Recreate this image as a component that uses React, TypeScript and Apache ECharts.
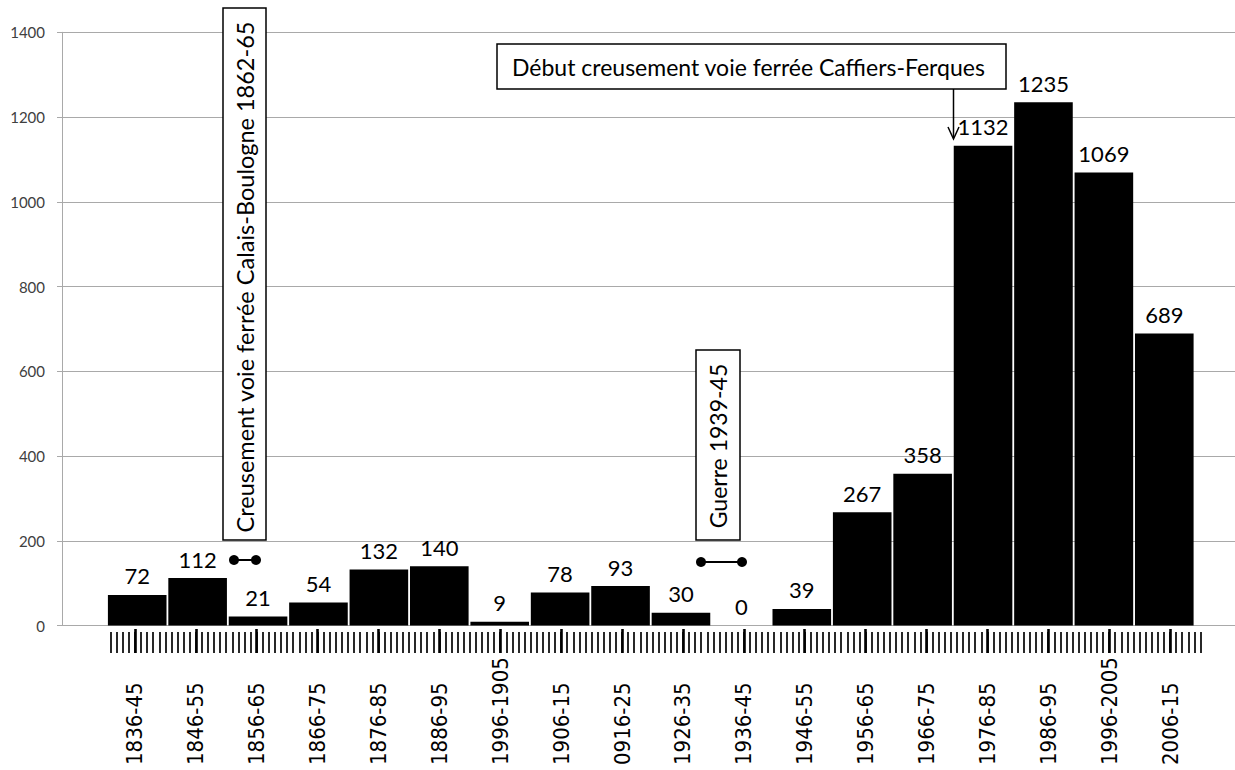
import React, { useEffect, useRef } from "react";
import * as echarts from "echarts";

// Ten-year periods on the horizontal axis (labels kept as written on the chart)
const periods = [
  "1836-45", "1846-55", "1856-65", "1866-75", "1876-85", "1886-95",
  "1996-1905", "1906-15", "0916-25", "1926-35", "1936-45", "1946-55",
  "1956-65", "1966-75", "1976-85", "1986-95", "1996-2005", "2006-15",
];

// Value for each period
const counts = [72, 112, 21, 54, 132, 140, 9, 78, 93, 30, 0, 39, 267, 358, 1132, 1235, 1069, 689];

// Vertical scale
const yMin = 0;
const yMax = 1400;
const yStep = 200;

// One tick per year, ten per period
const firstYear = 1836;
const years = periods.flatMap((_, p) =>
  Array.from({ length: 10 }, (_, k) => String(firstYear + p * 10 + k))
);
const majorTick = (index: number) => index % 10 === 4;

const GRID_TOP = 32.3;
const GRID_BOTTOM = 144.5;
const GRAY = "#a9a9a9";
const CALIBRI = "Lato, 'Open Sans', sans-serif";

export default function App() {
  const ref = useRef<HTMLDivElement>(null);

  useEffect(() => {
    if (!ref.current) return;
    const chart = echarts.init(ref.current, undefined, { renderer: "svg" });

    const box = (x: number, y: number, w: number, h: number) => ({
      type: "rect",
      shape: { x, y, width: w, height: h },
      style: { fill: "#fff", stroke: "#000", lineWidth: 1.5 },
      z: 100,
    });
    const label = (text: string, x: number, y: number, rotated: boolean, size: number, align = "center") => ({
      type: "text",
      x,
      y,
      rotation: rotated ? Math.PI / 2 : 0,
      style: {
        text,
        font: `${size}px ${CALIBRI}`,
        fill: "#000",
        align,
        verticalAlign: "middle",
        textAlign: align,
        textVerticalAlign: "middle",
      },
      z: 101,
    });
    const dumbbell = (x1: number, x2: number, y: number) => [
      { type: "line", shape: { x1, y1: y, x2, y2: y }, style: { stroke: "#000", lineWidth: 2 }, z: 101 },
      { type: "circle", shape: { cx: x1, cy: y, r: 5 }, style: { fill: "#000" }, z: 101 },
      { type: "circle", shape: { cx: x2, cy: y, r: 5 }, style: { fill: "#000" }, z: 101 },
    ];

    chart.setOption({
      animation: false,
      backgroundColor: "#fff",
      grid: [
        { left: 62, right: 0, top: GRID_TOP, bottom: GRID_BOTTOM },
        { left: 107, right: 40.5, top: GRID_TOP, bottom: GRID_BOTTOM },
        { left: 107.5, right: 31.5, top: GRID_TOP, bottom: GRID_BOTTOM },
        { left: 107.5, right: 31.5, top: GRID_TOP, bottom: GRID_BOTTOM },
      ],
      xAxis: [
        { gridIndex: 0, type: "value", show: false, min: 0, max: 1 },
        { gridIndex: 1, type: "category", data: periods, show: false },
        {
          gridIndex: 2,
          type: "category",
          data: years,
          position: "bottom",
          offset: 6.5,
          axisLine: { show: true, onZero: false, lineStyle: { color: "rgba(0,0,0,0)" } },
          axisTick: {
            show: true,
            alignWithLabel: true,
            interval: 0,
            length: 21,
            lineStyle: { color: "#111", width: 1.8 },
          },
          axisLabel: { show: false },
        },
        {
          gridIndex: 3,
          type: "category",
          data: years,
          position: "bottom",
          offset: 3.5,
          axisLine: { show: true, onZero: false, lineStyle: { color: "rgba(0,0,0,0)" } },
          axisTick: {
            show: true,
            alignWithLabel: true,
            interval: majorTick,
            length: 24,
            lineStyle: { color: "#000", width: 2.6 },
          },
          axisLabel: {
            interval: majorTick,
            rotate: 90,
            align: "left",
            margin: 136,
            formatter: (_: string, index: number) => periods[Math.floor(index / 10)],
            fontFamily: "'DejaVu Sans Condensed', 'DejaVu Sans', sans-serif",
            fontSize: 22,
            color: "#000",
          },
        },
      ],
      yAxis: [
        {
          gridIndex: 0,
          type: "value",
          min: yMin,
          max: yMax,
          interval: yStep,
          axisLine: { show: true, lineStyle: { color: GRAY, width: 1 } },
          axisTick: { show: true, length: 5, lineStyle: { color: GRAY } },
          axisLabel: {
            margin: 17,
            fontFamily: CALIBRI,
            fontSize: 15,
            color: "#404040",
            formatter: (v: number) => String(v),
          },
          splitLine: { show: true, lineStyle: { color: GRAY, width: 1 } },
        },
        { gridIndex: 1, type: "value", min: yMin, max: yMax, show: false },
        { gridIndex: 2, type: "value", min: 0, max: 1, show: false },
        { gridIndex: 3, type: "value", min: 0, max: 1, show: false },
      ],
      series: [
        {
          type: "bar",
          xAxisIndex: 1,
          yAxisIndex: 1,
          data: counts,
          barCategoryGap: "3%",
          itemStyle: { color: "#000" },
          label: {
            show: true,
            position: "top",
            distance: 8,
            fontFamily: CALIBRI,
            fontSize: 22,
            color: "#000",
          },
        },
      ],
      graphic: [
        box(223, 8, 43, 532),
        label("Creusement voie ferrée Calais-Boulogne 1862-65", 245, 277, true, 23.5),
        ...dumbbell(234, 256, 560),
        box(696, 350, 44, 190),
        label("Guerre 1939-45", 718, 446, true, 23),
        ...dumbbell(701, 742, 562),
        box(497, 44, 509, 45),
        label("Début creusement voie ferrée Caffiers-Ferques", 512, 67, false, 23, "left"),
        { type: "line", shape: { x1: 953.5, y1: 89, x2: 953.5, y2: 138 }, style: { stroke: "#000", lineWidth: 1.5 }, z: 101 },
        {
          type: "polyline",
          shape: { points: [[948, 127], [953.5, 139], [959, 127]] },
          style: { stroke: "#000", lineWidth: 1.5, fill: "none" },
          z: 101,
        },
      ],
    });

    return () => chart.dispose();
  }, []);

  return (
    <div
      ref={ref}
      style={{ position: "absolute", left: 0, top: 0, width: 1235, height: 770 }}
    />
  );
}
